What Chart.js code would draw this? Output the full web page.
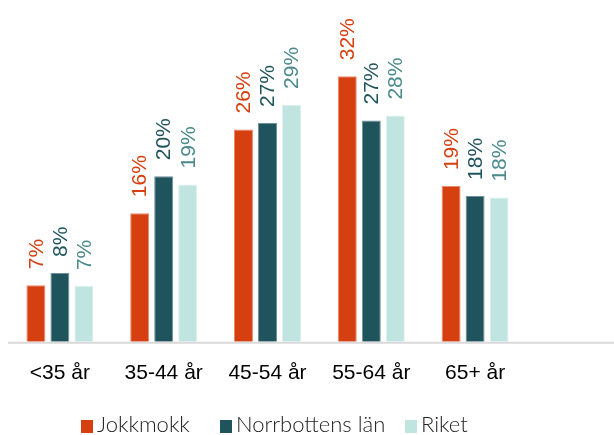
<!DOCTYPE html>
<html>
<head>
<meta charset="utf-8">
<script src="https://cdn.jsdelivr.net/npm/chart.js@4/dist/chart.umd.min.js"></script>
<style>
    html, body { margin: 0; padding: 0; background: #fff; }
    #wrap { position: relative; width: 614px; height: 435px; }
    #legend {
        position: absolute; left: 0; top: 411px; width: 614px; height: 26px;
        font-family: "Lato", "Open Sans", sans-serif; font-size: 22px; font-weight: 300;
        color: #222; white-space: nowrap;
    }
    #legend span.item { position: absolute; top: 0; line-height: 26px; }
    #legend span.box { display: inline-block; width: 12px; height: 13px; margin-right: 4px; vertical-align: -1px; }
</style>
</head>
<body>
<div id="wrap">
    <canvas id="chart" width="614" height="435"></canvas>
    <div id="legend"></div>
</div>
<script>
// categories and series (percent)
const categories = ['<35 år', '35-44 år', '45-54 år', '55-64 år', '65+ år'];
const seriesNames = ['Jokkmokk', 'Norrbottens län', 'Riket'];
const jokkmokk = [6.9, 15.7, 25.9, 32.4, 19.0];
const norrbotten = [8.4, 20.2, 26.7, 27.0, 17.8];
const riket = [6.8, 19.2, 28.9, 27.6, 17.6];

const barColors = ['#d63f10', '#1f545d', '#c0e4e0'];
const edgeColors = ['#e88a6c', '#6f9096', '#dcefed'];
const labelColors = ['#d63f10', '#1f545d', '#4a8a8c'];
const legendX = [81, 220, 405];

// rotated value labels above each bar
const valueLabels = {
    id: 'valueLabels',
    afterDatasetsDraw(chart) {
        const ctx = chart.ctx;
        chart.data.datasets.forEach(function (ds, i) {
            chart.getDatasetMeta(i).data.forEach(function (bar, j) {
                ctx.save();
                ctx.translate(bar.x, bar.y - 16);
                ctx.rotate(-Math.PI / 2);
                ctx.font = '21px "Liberation Sans", Arial, sans-serif';
                ctx.fillStyle = labelColors[i];
                ctx.textAlign = 'left';
                ctx.textBaseline = 'middle';
                ctx.fillText(Math.round(ds.data[j]) + '%', 0, 1);
                ctx.restore();
            });
        });
    }
};

// grey base line running to the right edge
const baseLine = {
    id: 'baseLine',
    beforeDatasetsDraw(chart) {
        const ctx = chart.ctx;
        const y = chart.scales.y.getPixelForValue(0);
        ctx.save();
        ctx.strokeStyle = '#d9d9d9';
        ctx.lineWidth = 2;
        ctx.beginPath();
        ctx.moveTo(chart.chartArea.left, y + 1);
        ctx.lineTo(chart.width, y + 1);
        ctx.stroke();
        ctx.restore();
    }
};

const ctx = document.getElementById('chart').getContext('2d');

new Chart(ctx, {
    type: 'bar',
    data: {
        labels: categories,
        datasets: [jokkmokk, norrbotten, riket].map(function (values, i) {
            return {
                label: seriesNames[i],
                data: values,
                backgroundColor: barColors[i],
                borderColor: edgeColors[i],
                borderWidth: 1,
                categoryPercentage: 0.694,
                barPercentage: 0.79
            };
        })
    },
    options: {
        responsive: false,
        animation: false,
        layout: { padding: { left: 8, right: 87, top: 14, bottom: 30 } },
        plugins: {
            legend: { display: false },
            tooltip: { enabled: false }
        },
        scales: {
            x: {
                grid: { display: false, drawTicks: false },
                border: { display: false },
                ticks: {
                    color: '#000',
                    padding: 19,
                    font: { family: '"Liberation Sans", Arial, sans-serif', size: 21 }
                }
            },
            y: {
                display: false,
                min: 0,
                max: 40
            }
        }
    },
    plugins: [baseLine, valueLabels]
});

var legend = document.getElementById('legend');
seriesNames.forEach(function (name, i) {
    var item = document.createElement('span');
    item.className = 'item';
    item.style.left = legendX[i] + 'px';
    item.innerHTML = '<span class="box" style="background:' + barColors[i] + '"></span>' + name;
    legend.appendChild(item);
});
</script>
</body>
</html>
